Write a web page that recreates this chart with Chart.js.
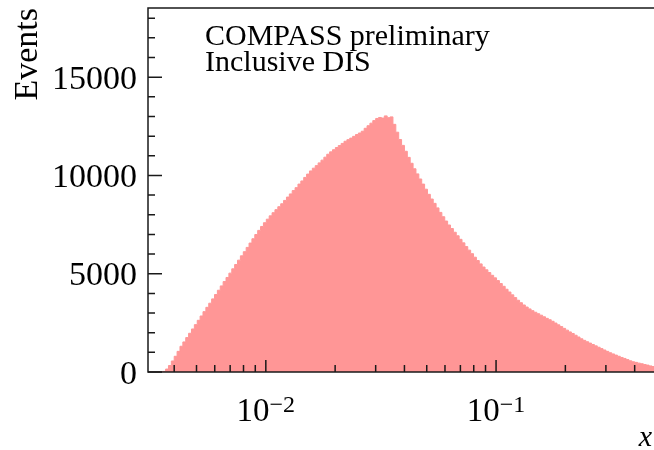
<!DOCTYPE html>
<html>
<head>
<meta charset="utf-8">
<script src="https://cdn.jsdelivr.net/npm/chart.js@4"></script>
<style>
  html, body { margin: 0; padding: 0; background: #fff; }
  canvas { display: block; }
</style>
</head>
<body>
<canvas id="xChart" width="654" height="450"></canvas>
<script>
// histogram in log10-spaced bins, first bin starts at x = 0.003
const binStart = 0.003;
const binLogWidth = 0.0125;
const events = [
  0, 0, 0, 0, 0, 0, 30, 150, 330, 560,
  800, 1050, 1310, 1530, 1750, 1970, 2190, 2410, 2630, 2850,
  3070, 3290, 3500, 3720, 3940, 4160, 4380, 4600, 4810, 5030,
  5250, 5470, 5690, 5910, 6120, 6340, 6560, 6780, 6995, 7205,
  7405, 7595, 7775, 7945, 8105, 8260, 8410, 8560, 8730, 8900,
  9060, 9230, 9380, 9560, 9720, 9900, 10070, 10230, 10370, 10500,
  10640, 10780, 10930, 11080, 11200, 11310, 11420, 11520, 11630, 11740,
  11820, 11900, 11990, 12080, 12160, 12250, 12400, 12530, 12660, 12790,
  12900, 12950, 12920, 13030, 12940, 12980, 12600, 12200, 11830, 11530,
  11230, 10920, 10620, 10340, 10080, 9820, 9560, 9300, 9040, 8800,
  8580, 8350, 8120, 7900, 7680, 7480, 7300, 7110, 6930, 6750,
  6570, 6380, 6200, 6020, 5840, 5670, 5500, 5340, 5200, 5060,
  4920, 4790, 4650, 4500, 4360, 4210, 4070, 3925, 3785, 3650,
  3525, 3410, 3305, 3210, 3120, 3040, 2965, 2890, 2810, 2730,
  2660, 2580, 2490, 2400, 2310, 2220, 2130, 2040, 1960, 1870,
  1780, 1690, 1610, 1540, 1470, 1400, 1330, 1260, 1190, 1120,
  1050, 980, 920, 860, 800, 740, 690, 630, 570, 520,
  490, 450, 420, 380, 350, 310, 280, 250
];

const xRange = [0.003078, 0.4853];
const yRange = [0, 18520];
const yMajorTicks = [0, 5000, 10000, 15000];
const yTickLabels = ['0', '5000', '10000', '15000'];
const yMinorTicks = [1000, 2000, 3000, 4000, 6000, 7000, 8000, 9000, 11000, 12000, 13000, 14000, 16000, 17000, 18000];
const xMajorTicks = [0.01, 0.1];
const xTickExponents = ['\u22122', '\u22121'];
const xMinorTicks = [0.004, 0.005, 0.006, 0.007, 0.008, 0.009,
  0.02, 0.03, 0.04, 0.05, 0.06, 0.07, 0.08, 0.09, 0.2, 0.3, 0.4];
const infoLines = ['COMPASS preliminary', 'Inclusive DIS'];

// bin low edges -> stepped points, plus the upper edge of the last bin
const points = events.map((v, i) => ({ x: binStart * Math.pow(10, binLogWidth * i), y: v }));
points.push({ x: binStart * Math.pow(10, binLogWidth * events.length), y: events[events.length - 1] });

const serif = '"Liberation Serif", "DejaVu Serif", serif';

const rootAxes = {
  id: 'rootAxes',
  afterDraw(chart) {
    const ctx = chart.ctx;
    const xs = chart.scales.x;
    const ys = chart.scales.y;
    const a = chart.chartArea;
    ctx.save();
    ctx.strokeStyle = '#1a1a1a';
    ctx.fillStyle = '#000';
    ctx.lineWidth = 1.5;

    // frame
    ctx.beginPath();
    ctx.moveTo(a.right + 2, a.top);
    ctx.lineTo(a.left, a.top);
    ctx.lineTo(a.left, a.bottom);
    ctx.lineTo(a.right + 2, a.bottom);
    ctx.stroke();

    // y ticks
    ctx.beginPath();
    yMajorTicks.forEach(v => {
      const y = ys.getPixelForValue(v);
      ctx.moveTo(a.left, y); ctx.lineTo(a.left + 14, y);
    });
    yMinorTicks.forEach(v => {
      const y = ys.getPixelForValue(v);
      ctx.moveTo(a.left, y); ctx.lineTo(a.left + 7, y);
    });
    // x ticks
    xMajorTicks.forEach(v => {
      const x = xs.getPixelForValue(v);
      ctx.moveTo(x, a.bottom); ctx.lineTo(x, a.bottom - 12);
    });
    xMinorTicks.forEach(v => {
      const x = xs.getPixelForValue(v);
      ctx.moveTo(x, a.bottom); ctx.lineTo(x, a.bottom - 7);
    });
    ctx.stroke();

    // y labels
    ctx.font = '34px ' + serif;
    ctx.textAlign = 'right';
    ctx.textBaseline = 'alphabetic';
    yMajorTicks.forEach((v, i) => {
      ctx.fillText(yTickLabels[i], a.left - 11, ys.getPixelForValue(v) + 11.5);
    });

    // x labels 10^n
    ctx.textAlign = 'left';
    xMajorTicks.forEach((v, i) => {
      const x = xs.getPixelForValue(v);
      ctx.font = '33px ' + serif;
      const w1 = ctx.measureText('10').width;
      ctx.font = '24px ' + serif;
      const w2 = ctx.measureText(xTickExponents[i]).width;
      const x0 = x - (w1 + w2) / 2;
      ctx.font = '33px ' + serif;
      ctx.fillText('10', x0, 421);
      ctx.font = '24px ' + serif;
      ctx.fillText(xTickExponents[i], x0 + w1, 412);
    });

    // axis titles
    ctx.font = 'italic 30px ' + serif;
    ctx.textAlign = 'right';
    ctx.fillText('x', 652, 446);

    ctx.save();
    ctx.translate(37, 8);
    ctx.rotate(-Math.PI / 2);
    ctx.font = '34px ' + serif;
    ctx.textAlign = 'right';
    ctx.fillText('Events', 0, 0);
    ctx.restore();

    // info text
    ctx.font = '30px ' + serif;
    ctx.textAlign = 'left';
    ctx.fillText(infoLines[0], 205, 45);
    ctx.fillText(infoLines[1], 205, 71);

    ctx.restore();
  }
};

new Chart(document.getElementById('xChart').getContext('2d'), {
  type: 'line',
  data: {
    datasets: [{
      data: points,
      stepped: true,
      fill: 'origin',
      backgroundColor: 'rgb(255, 150, 150)',
      borderColor: 'rgb(255, 150, 150)',
      borderWidth: 1,
      pointRadius: 0
    }]
  },
  options: {
    responsive: false,
    animation: false,
    layout: { padding: { left: 148, top: 8, right: 0, bottom: 78 } },
    plugins: { legend: { display: false }, tooltip: { enabled: false } },
    scales: {
      x: { type: 'logarithmic', min: xRange[0], max: xRange[1], display: false },
      y: { type: 'linear', min: yRange[0], max: yRange[1], display: false }
    }
  },
  plugins: [rootAxes]
});
</script>
</body>
</html>
